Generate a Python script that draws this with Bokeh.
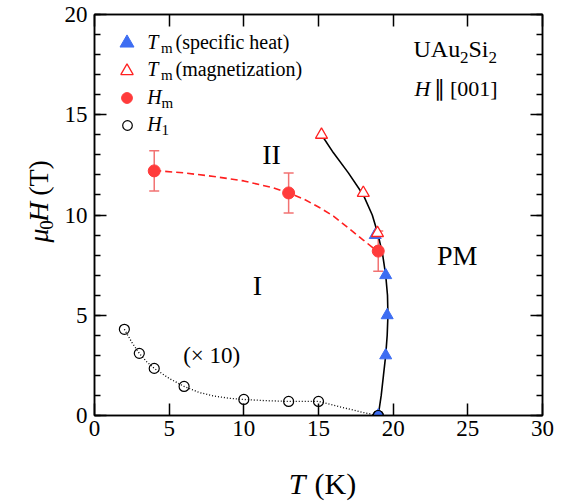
from bokeh.plotting import figure
from bokeh.layouts import row, column
from bokeh.models import (ColumnDataSource, Whisker, TeeHead, Label, Legend, LegendItem,
                          LinearAxis, SingleIntervalTicker)
from bokeh.embed import file_html
from bokeh.resources import INLINE

# --- phase-diagram data of UAu2Si2, H || [001] ---
# T_m from specific heat
tm_heat_T = [19.0, 19.5, 19.6, 19.5, 18.8]
tm_heat_H = [0.0, 3.0, 5.0, 7.0, 9.0]
# T_m from magnetization
tm_mag_T = [15.2, 18.0, 18.95]
tm_mag_H = [14.0, 11.1, 9.1]
# H_m with error bars
hm_T = [4.0, 13.0, 19.0]
hm_H = [12.2, 11.1, 8.2]
hm_err = [1.0, 1.0, 1.0]
# H_1 (multiplied by 10)
h1_T = [2.0, 3.0, 4.0, 6.0, 10.0, 13.0, 15.0, 19.0]
h1_H = [4.3, 3.1, 2.35, 1.45, 0.8, 0.7, 0.7, 0.0]

# guide lines through the phase boundaries
boundary_T = [15.2, 16.0, 17.0, 18.0, 18.6, 19.0, 19.3, 19.5, 19.62, 19.65, 19.6, 19.5, 19.35, 19.2, 19.0]
boundary_H = [14.0, 13.1, 12.1, 11.0, 10.0, 9.0, 8.0, 7.0, 6.0, 5.0, 4.0, 3.0, 2.0, 1.0, 0.0]
hm_guide_T = [4.0, 6.0, 8.0, 10.0, 12.0, 13.0, 14.0, 15.0, 16.0, 17.0, 18.0, 19.0]
hm_guide_H = [12.22, 12.1, 11.92, 11.7, 11.35, 11.1, 10.8, 10.4, 9.95, 9.35, 8.75, 8.15]
h1_guide_T = [2.0, 2.5, 3.0, 3.5, 4.0, 5.0, 6.0, 7.0, 8.0, 9.0, 10.0, 11.5, 13.0, 15.0, 16.0, 17.0, 18.0, 19.0]
h1_guide_H = [4.3, 3.65, 3.1, 2.68, 2.35, 1.85, 1.45, 1.15, 0.97, 0.86, 0.8, 0.74, 0.7, 0.7, 0.52, 0.33, 0.15, 0.0]

BLUE = "#3d6df2"
RED = "#ff3b3b"
RED_LINE = "#ff2020"
ERR = "#f27272"
SERIF = "Liberation Serif"
MID = 0.3375   # distance from baseline up to the middle of the text box, in em

# page geometry (pixels)
W, H = 574, 502
LEFT_W = 60           # strip holding the vertical axis title
BOTTOM_H = 42         # strip holding the horizontal axis title
MAIN_W, MAIN_H = W - LEFT_W, H - BOTTOM_H
L, R, T, B = 94, 32, 14, 87   # frame margins measured on the whole page
XMIN, XMAX, YMIN, YMAX = 0, 30, 0, 20
SX = (W - L - R) / (XMAX - XMIN)
SY = (H - T - B) / (YMAX - YMIN)

p = figure(width=MAIN_W, height=MAIN_H, x_range=(XMIN, XMAX), y_range=(YMIN, YMAX),
           output_backend="svg", toolbar_location=None,
           min_border_left=L - LEFT_W, min_border_right=R,
           min_border_top=T, min_border_bottom=B - BOTTOM_H)
p.grid.visible = False
p.outline_line_color = "black"
p.outline_line_width = 1.5
p.background_fill_color = "white"
p.border_fill_color = "white"

xt = SingleIntervalTicker(interval=5, num_minor_ticks=0)
yt = SingleIntervalTicker(interval=5, num_minor_ticks=5)
p.xaxis.ticker = xt
p.yaxis.ticker = yt
p.add_layout(LinearAxis(ticker=xt), "above")
p.add_layout(LinearAxis(ticker=yt), "right")

for ax in p.axis:
    ax.axis_line_color = "black"
    ax.axis_line_width = 1.5
    ax.major_tick_in = 12
    ax.major_tick_out = 0
    ax.minor_tick_in = 6
    ax.minor_tick_out = 0
    ax.major_tick_line_width = 1.5
    ax.minor_tick_line_width = 1.5
    ax.major_label_text_font = SERIF
    ax.major_label_text_font_size = "23px"
    ax.major_label_text_color = "black"
# mirror axes carry ticks only
for ax in p.above + p.right:
    ax.major_label_text_font_size = "1px"
    ax.major_label_text_color = None
    ax.major_label_standoff = 0
p.xaxis[0].major_label_standoff = 12
p.yaxis[0].major_label_standoff = 7

# guide lines
p.line(boundary_T, boundary_H, line_color="black", line_width=1.6)
p.line(hm_guide_T, hm_guide_H, line_color=RED_LINE, line_width=1.6, line_dash="7 4")
p.line(h1_guide_T, h1_guide_H, line_color="black", line_width=1.3, line_dash="1 2")

# error bars of H_m
err_src = ColumnDataSource(dict(
    T=hm_T,
    lo=[h - e for h, e in zip(hm_H, hm_err)],
    up=[h + e for h, e in zip(hm_H, hm_err)],
))
p.add_layout(Whisker(base="T", lower="lo", upper="up", source=err_src,
                     line_color=ERR, line_width=1.5,
                     upper_head=TeeHead(size=10, line_color=ERR, line_width=1.5),
                     lower_head=TeeHead(size=10, line_color=ERR, line_width=1.5)))

r_heat = p.scatter(tm_heat_T, tm_heat_H, marker="triangle", size=12,
                   fill_color=BLUE, line_color=BLUE, line_width=1)
r_mag = p.scatter(tm_mag_T, tm_mag_H, marker="triangle", size=12,
                  fill_color="white", line_color=RED_LINE, line_width=1.3)
r_hm = p.scatter(hm_T, hm_H, marker="circle", size=12,
                 fill_color=RED, line_color=RED, line_width=1)
r_h1 = p.scatter(h1_T, h1_H, marker="circle", size=10,
                 fill_color=None, line_color="black", line_width=1.2)
# zero-field point shared by T_m and H_1
zero_T = [t for t, h in zip(h1_T, h1_H) if h == 0 and t in tm_heat_T]
zero_H = [0.0 for _ in zero_T]
p.scatter(zero_T, zero_H, marker="circle", size=10,
          fill_color=BLUE, line_color="black", line_width=1.2)


def key(renderer, cx, cy, box):
    """Legend key centred at page pixel (cx, cy)."""
    lg = Legend(items=[LegendItem(label=" ", renderers=[renderer])],
                location=(cx - L - box / 2, (H - B) - cy - box / 2),
                glyph_width=box, glyph_height=box, padding=0, margin=0,
                label_standoff=0, label_width=0, label_height=box, spacing=0,
                border_line_color=None, background_fill_alpha=0.0,
                label_text_font_size="1px", label_text_color=None)
    p.add_layout(lg)


key(r_heat, 126.7, 42.7, 35)
key(r_mag, 126.7, 70.0, 31)
key(r_hm, 126.7, 97.7, 27)
key(r_h1, 126.7, 125.0, 24)


def make_label(s, x, y, size, style, align, angle=0.0):
    return Label(x=x, y=y, text=s, text_font=SERIF, text_font_size=f"{size}px",
                 text_font_style=style, text_color="black",
                 text_align=align, text_baseline="middle", angle=angle)


def txt(s, px, py, size, style="normal", align="left"):
    """Text in the plot frame, baseline at page pixel row py, starting at px."""
    mid = py - MID * size
    p.add_layout(make_label(s, XMIN + (px - L) / SX, YMIN + ((H - B) - mid) / SY,
                            size, style, align))


def strip(width, height):
    s = figure(width=width, height=height, x_range=(0, width), y_range=(0, height),
               output_backend="svg", toolbar_location=None,
               x_axis_type=None, y_axis_type=None, min_border=0)
    s.grid.visible = False
    s.outline_line_color = None
    s.background_fill_color = "white"
    s.border_fill_color = "white"
    return s


# legend texts
txt("T", 146.7, 48.3, 20, "italic")
txt("m", 160.5, 53.0, 15)
txt("(specific heat)", 175, 48.3, 20)
txt("T", 146.7, 75.0, 20, "italic")
txt("m", 160.5, 79.7, 15)
txt("(magnetization)", 175, 75.0, 20)
txt("H", 146.7, 103.3, 20, "italic")
txt("m", 161.0, 108.0, 15)
txt("H", 146.7, 130.0, 20, "italic")
txt("1", 161.0, 134.7, 15)

# compound and field direction
txt("UAu", 413, 56.7, 24)
txt("2", 459.5, 62.5, 17)
txt("Si", 468, 56.7, 24)
txt("2", 488, 62.5, 17)
txt("H", 414, 95, 22, "italic")
txt("\u2225 [001]", 433, 95, 22)

# phase labels
txt("II", 271, 163.3, 28, align="center")
txt("I", 257, 294, 28, align="center")
txt("PM", 456.7, 264.3, 28, align="center")
txt("(\u00d7 10)", 182.7, 362.6, 23)

# vertical axis title: mu_0 H (T), reading upwards; each piece is centred on
# (page x of its box middle, page y of its centre along the text)
left = strip(LEFT_W, MAIN_H)
ROT = 1.5707963


def vtxt(s, base_x, cy, size, style="normal"):
    cx = base_x - MID * size
    left.add_layout(make_label(s, cx, MAIN_H - cy, size, style, "center", ROT))


vtxt("\u03bc", 47, 253.5, 28, "italic")
vtxt("0", 52, 241.5, 19)
vtxt("H", 47, 226.5, 28, "italic")
vtxt("(T)", 47, 187.5, 28)

# horizontal axis title: T (K)
bottom = strip(W, BOTTOM_H)


def htxt(s, px, py, size, style="normal"):
    bottom.add_layout(make_label(s, px, H - (py - MID * size), size, style, "left"))


htxt("T", 288.3, 493.3, 30, "italic")
htxt("(K)", 314, 493.3, 30)

page = column(row(left, p, spacing=0), bottom, spacing=0)
open("out.html", "w").write(file_html(page, INLINE))
